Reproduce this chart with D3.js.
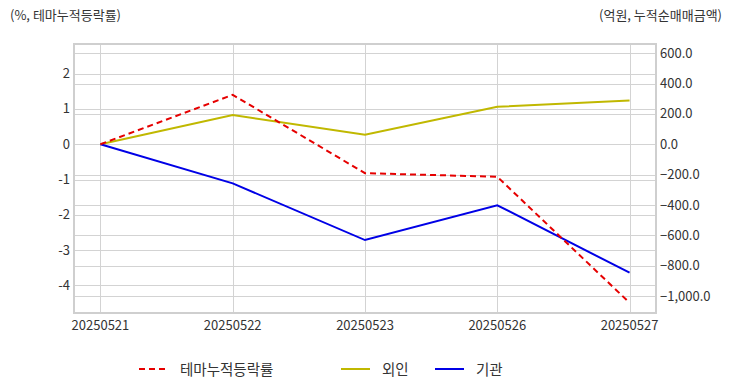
<!DOCTYPE html>
<html>
<head>
<meta charset="utf-8">
<script src="https://cdn.jsdelivr.net/npm/d3@7"></script>
<style>
  body { margin: 0; background: #fff; }
  text { font-family: "Noto Sans CJK KR", "Noto Sans", sans-serif; fill: #333; }
</style>
</head>
<body>
<svg id="chart" width="732" height="392"></svg>
<script>
const dates = ["20250521", "20250522", "20250523", "20250526", "20250527"];
const themeRate = [0, 1.40, -0.82, -0.92, -4.49];
const foreign = [0, 193, 63, 247, 289];
const institution = [0, -257, -630, -401, -845];
const leftTicks = [2, 1, 0, -1, -2, -3, -4];
const rightTicks = [600, 400, 200, 0, -200, -400, -600, -800, -1000];

const svg = d3.select("#chart");
const plotL = 74, plotR = 656, plotT = 44, plotB = 313;

const x = d3.scalePoint().domain(dates).range([plotL, plotR]).padding(0.2);
const yL = d3.scaleLinear().domain([-4.78, 2.84]).range([plotB, plotT]);
const yR = d3.scaleLinear().domain([-1110, 660]).range([plotB, plotT]);

const grid = svg.append("g").attr("stroke", "#d3d3d3").attr("stroke-width", 1);
leftTicks.forEach(t => {
  grid.append("line").attr("x1", plotL).attr("x2", plotR)
    .attr("y1", Math.round(yL(t)) + 0.5).attr("y2", Math.round(yL(t)) + 0.5);
});
rightTicks.forEach(t => {
  grid.append("line").attr("x1", plotL).attr("x2", plotR)
    .attr("y1", Math.round(yR(t)) + 0.5).attr("y2", Math.round(yR(t)) + 0.5);
});
dates.forEach(d => {
  grid.append("line").attr("x1", Math.round(x(d)) + 0.5).attr("x2", Math.round(x(d)) + 0.5)
    .attr("y1", plotT).attr("y2", plotB);
});

svg.append("rect").attr("x", plotL).attr("y", plotT)
  .attr("width", plotR - plotL).attr("height", plotB - plotT)
  .attr("fill", "none").attr("stroke", "#cfcfcf").attr("stroke-width", 2);

// axis labels
svg.selectAll(".yl").data(leftTicks).enter().append("text")
  .attr("x", 70).attr("y", d => yL(d) + 4.5).attr("text-anchor", "end")
  .attr("font-size", 13).text(d => d);
const fmt = d3.format(",.1f");
svg.selectAll(".yr").data(rightTicks).enter().append("text")
  .attr("x", 660).attr("y", d => yR(d) + 4.5).attr("text-anchor", "start")
  .attr("font-size", 13).text(d => fmt(d));
svg.selectAll(".xl").data(dates).enter().append("text")
  .attr("x", d => x(d)).attr("y", 330).attr("text-anchor", "middle")
  .attr("font-size", 13).text(d => d);

svg.append("text").attr("x", 10).attr("y", 20).attr("font-size", 13).text("(%, 테마누적등락률)");
svg.append("text").attr("x", 722).attr("y", 20).attr("text-anchor", "end").attr("font-size", 13).text("(억원, 누적순매매금액)");

const lineL = d3.line().x((d, i) => x(dates[i])).y(d => yL(d));
const lineR = d3.line().x((d, i) => x(dates[i])).y(d => yR(d));

svg.append("path").datum(foreign).attr("d", lineR)
  .attr("fill", "none").attr("stroke", "#c0b800").attr("stroke-width", 2);
svg.append("path").datum(institution).attr("d", lineR)
  .attr("fill", "none").attr("stroke", "#0000e6").attr("stroke-width", 2);
svg.append("path").datum(themeRate).attr("d", lineL)
  .attr("fill", "none").attr("stroke", "#e60000").attr("stroke-width", 2)
  .attr("stroke-dasharray", "6,4");

// legend
const legend = [
  { name: "테마누적등락률", color: "#e60000", dash: "6,4", x: 139 },
  { name: "외인", color: "#c0b800", dash: null, x: 341 },
  { name: "기관", color: "#0000e6", dash: null, x: 435 }
];
legend.forEach(l => {
  svg.append("line").attr("x1", l.x).attr("x2", l.x + 29).attr("y1", 369).attr("y2", 369)
    .attr("stroke", l.color).attr("stroke-width", 2).attr("stroke-dasharray", l.dash);
  svg.append("text").attr("x", l.x + 41).attr("y", 374.5).attr("font-size", 14.5).text(l.name);
});
</script>
</body>
</html>
